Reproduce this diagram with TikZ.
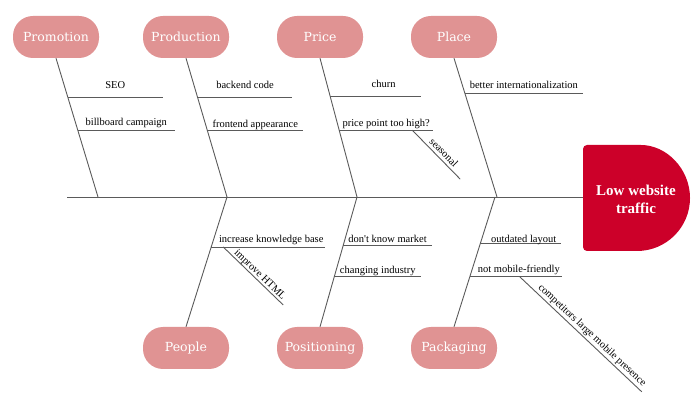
\documentclass[tikz,border=0pt]{standalone}
\usepackage{fontspec}
\setmainfont{Liberation Serif}
\newfontfamily\catfont{DejaVu Serif}
\usetikzlibrary{calc}
\definecolor{catpink}{HTML}{E09393}
\definecolor{headred}{HTML}{CC0029}
\definecolor{bonegray}{HTML}{5A5A5A}

\begin{document}
\begin{tikzpicture}[x=1pt,y=1pt,
		cat/.style={rectangle,rounded corners=20pt,fill=catpink,text=white,minimum width=86pt,minimum height=42pt,inner sep=0pt,font=\catfont\fontsize{12.5}{14}\selectfont},
		bone/.style={draw=bonegray,line width=0.9pt},
		lbl/.style={midway,anchor=base,yshift=#1,inner sep=0pt,font=\fontsize{10.5}{12}\selectfont},
		slbl/.style={sloped,above,inner sep=#1,font=\fontsize{10.5}{12}\selectfont}]
		\useasboundingbox (0,0) rectangle (700,417);
		% head
		\fill[headred,rounded corners=4pt] (637,166) -- (583,166) -- (583,272) -- (637,272) arc (90:-90:53);
		\node[text=white,align=center,font=\bfseries\fontsize{15}{18}\selectfont] (effect) at (636,218) {Low website\\traffic};
		\coordinate (tail) at (67,220);
		\coordinate (headL) at (583,220);
		\draw[bone] (tail) -- (headL);
		% categories
		\node[cat] (promotion) at (56,380) {Promotion};
		\node[cat] (production) at (186,380) {Production};
		\node[cat] (price) at (320,380) {Price};
		\node[cat] (place) at (454,380) {Place};
		\node[cat] (people) at (186,69) {People};
		\node[cat] (positioning) at (320,69) {Positioning};
		\node[cat] (packaging) at (454,69) {Packaging};
		% joints on the spine
		\coordinate (jpromo) at (98,220);
		\coordinate (jprod) at (227,220);
		\coordinate (jprice) at (357,220);
		\coordinate (jplace) at (497,220);
		\coordinate (jpeople) at (227,220);
		\coordinate (jpos) at (357,220);
		\coordinate (jpack) at (495,220);
		\draw[bone] (promotion.south) -- (jpromo);
		\draw[bone] (production.south) -- (jprod);
		\draw[bone] (price.south) -- (jprice);
		\draw[bone] (place.south) -- (jplace);
		\draw[bone] (jpeople) -- (people.north);
		\draw[bone] (jpos) -- (positioning.north);
		\draw[bone] (jpack) -- (packaging.north);
		% causes
		\coordinate (seo) at ($(promotion.south)!0.28!(jpromo)$);
		\coordinate (billboard) at ($(promotion.south)!0.518!(jpromo)$);
		\coordinate (backend) at ($(production.south)!0.28!(jprod)$);
		\coordinate (frontend) at ($(production.south)!0.518!(jprod)$);
		\coordinate (churn) at ($(price.south)!0.273!(jprice)$);
		\coordinate (ppoint) at ($(price.south)!0.518!(jprice)$);
		\coordinate (intl) at ($(place.south)!0.252!(jplace)$);
		\coordinate (knowledge) at ($(jpeople)!0.385!(people.north)$);
		\coordinate (market) at ($(jpos)!0.377!(positioning.north)$);
		\coordinate (industry) at ($(jpos)!0.615!(positioning.north)$);
		\coordinate (layout) at ($(jpack)!0.36!(packaging.north)$);
		\coordinate (mobile) at ($(jpack)!0.615!(packaging.north)$);
		\draw[bone] (seo) -- ++(95,0) node[lbl=9pt] {SEO};
		\draw[bone] (billboard) -- ++(97,0) node[lbl=5pt] {billboard campaign};
		\draw[bone] (backend) -- ++(95,0) node[lbl=9pt] {backend code};
		\draw[bone] (frontend) -- ++(96,0) node[lbl=3pt] {frontend appearance};
		\draw[bone] (churn) -- ++(91,0) node[lbl=9pt,xshift=8pt] {churn};
		\draw[bone] (ppoint) -- ++(94,0) node[lbl=4pt] {price point too high?};
		\draw[bone] (intl) -- ++(118,0) node[lbl=5pt] {better internationalization};
		\draw[bone] (knowledge) -- ++(114,0) node[lbl=4pt,xshift=3pt] {increase knowledge base};
		\draw[bone] (market) -- ++(89,0) node[lbl=3pt] {don\textquotesingle t know market};
		\draw[bone] (industry) -- ++(87,0) node[lbl=3pt] {changing industry};
		\draw[bone] (layout) -- ++(81,0) node[lbl=1pt,xshift=3pt] {outdated layout};
		\draw[bone] (mobile) -- ++(92,0) node[lbl=4pt,xshift=3pt] {not mobile-friendly};
		% second level
		\coordinate (seasonal) at ($(ppoint)+(73,0)$);
		\coordinate (html) at ($(knowledge)+(12,0)$);
		\coordinate (rivals) at ($(mobile)+(50,0)$);
		\draw[bone] (seasonal) -- ++(48,-49) node[slbl=3pt,pos=0.555] {seasonal};
		\draw[bone] (html) -- ++(60,-58) node[slbl=0pt,pos=0.55] {improve HTML};
		\draw[bone] (rivals) -- ++(122,-115) node[slbl=1.5pt,pos=0.554] {competitors large mobile presence};
	\end{tikzpicture}
\end{document}
